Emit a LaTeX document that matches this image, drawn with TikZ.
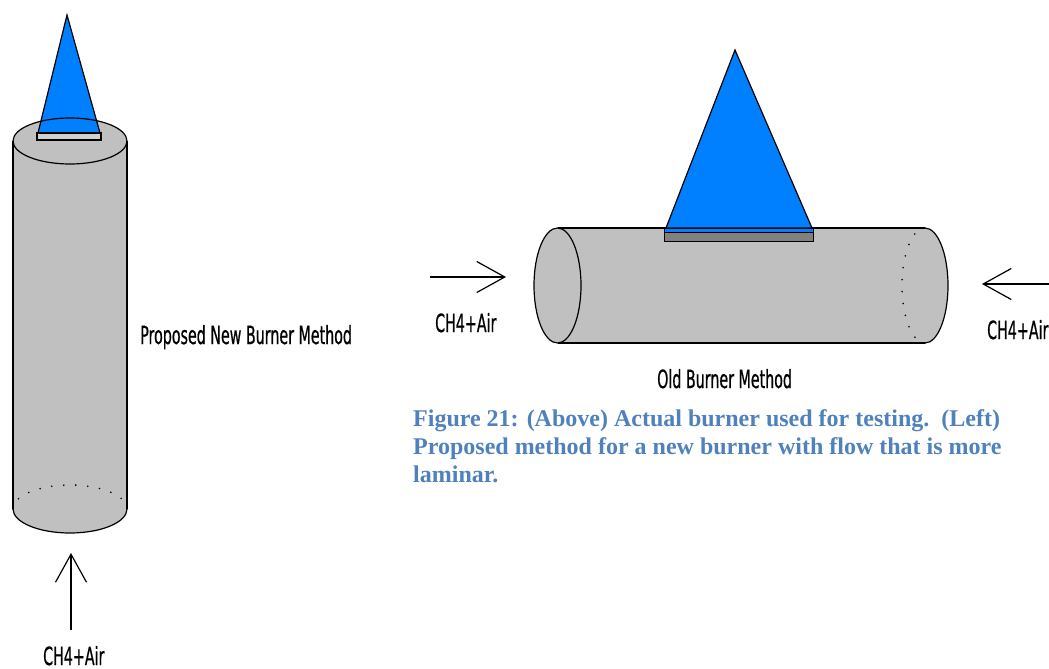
\documentclass[tikz,border=0pt]{standalone}
\usepackage{fontspec}
\usepackage{xcolor}
\usetikzlibrary{arrows.meta}
\setmainfont{Liberation Serif}
\newfontfamily\paintfont[FakeStretch=0.57,FakeBold=0.6]{DejaVu Sans}
\definecolor{flame}{RGB}{0,128,255}
\definecolor{pipe}{RGB}{192,192,192}
\definecolor{plate}{RGB}{128,128,128}
\definecolor{capblue}{RGB}{79,129,189}

\begin{document}
\begin{tikzpicture}[x=1pt,y=-1pt,
        outline/.style={draw=black,line width=1.2pt},
        hidden/.style={draw=black,line width=1.8pt,line cap=round,dash pattern=on 0pt off 12pt},
        flow/.style={line width=1.2pt,-{Straight Barb[length=28pt,width=31pt]}},
        paintlabel/.style={font=\paintfont\fontsize{25}{26}\selectfont,inner sep=0pt},
        caption/.style={font=\bfseries\fontsize{24}{28}\selectfont,text=capblue,inner sep=0pt}]
                \useasboundingbox (0,0) rectangle (1049,669);
                
                % upright burner
                \fill[pipe] (13,141) rectangle (127,509);
                \fill[pipe] (70,509) ellipse [x radius=57,y radius=24];
                \fill[pipe] (70,141) ellipse [x radius=57,y radius=23];
                \draw[outline] (13,141) -- (13,509) (127,141) -- (127,509);
                \draw[outline] (127,509) arc [start angle=0,end angle=180,x radius=57,y radius=24];
                \draw[hidden] (13,509) arc [start angle=180,end angle=360,x radius=57,y radius=24];
                \filldraw[fill=flame,outline] (67,15) -- (38,133) -- (100,133) -- cycle;
                \draw[outline] (70,141) ellipse [x radius=57,y radius=23];
                \filldraw[fill=pipe!75!white,outline] (37,133) rectangle (101,140);
                
                % lying burner
                \fill[pipe] (557.5,228) rectangle (925,343);
                \fill[pipe] (925,285.5) ellipse [x radius=23,y radius=57.5];
                \draw[outline] (557.5,228) -- (925,228) (557.5,343) -- (925,343);
                \draw[outline] (925,228) arc [start angle=-90,end angle=90,x radius=23,y radius=57.5];
                \draw[hidden] (925,343) arc [start angle=90,end angle=270,x radius=23,y radius=57.5];
                \filldraw[fill=pipe,outline] (557.5,285.5) ellipse [x radius=23.5,y radius=57.5];
                \filldraw[fill=flame,outline] (735,50) -- (666,228) -- (812,228) -- cycle;
                \filldraw[fill=plate,draw=black,line width=1pt] (664,232) rectangle (813,241);
                \filldraw[fill=flame,draw=black,line width=1pt] (664,228) rectangle (813,232);
                
                % gas inlets
                \coordinate (upfrom) at (71,630);
                \coordinate (upto)   at (71,553);
                \coordinate (lfrom)  at (430,277);
                \coordinate (lto)    at (506,277);
                \coordinate (rfrom)  at (1052,284);
                \coordinate (rto)    at (982,284);
                \draw[flow] (upfrom) -- (upto);
                \draw[flow] (lfrom) -- (lto);
                \draw[flow] (rfrom) -- (rto);
                
                \node[paintlabel,anchor=base west] (gasup) at (43,665) {CH4+Air};
                \node[paintlabel,anchor=base west] (gasl)  at (435,332) {CH4+Air};
                \node[paintlabel,anchor=base west] (gasr)  at (987,339) {CH4+Air};
                \node[paintlabel,anchor=base west] (newname) at (140,344) {Proposed New Burner Method};
                \node[paintlabel,anchor=base west] (oldname) at (657,388) {Old Burner Method};
                
                \node[caption,anchor=base west] (cap1) at (413,426) {Figure 21: (Above) Actual burner used for testing.\ \ (Left)};
                \node[caption,anchor=base west] (cap2) at (413,454) {Proposed method for a new burner with flow that is more};
                \node[caption,anchor=base west] (cap3) at (413,482) {laminar.};
\end{tikzpicture}
\end{document}
